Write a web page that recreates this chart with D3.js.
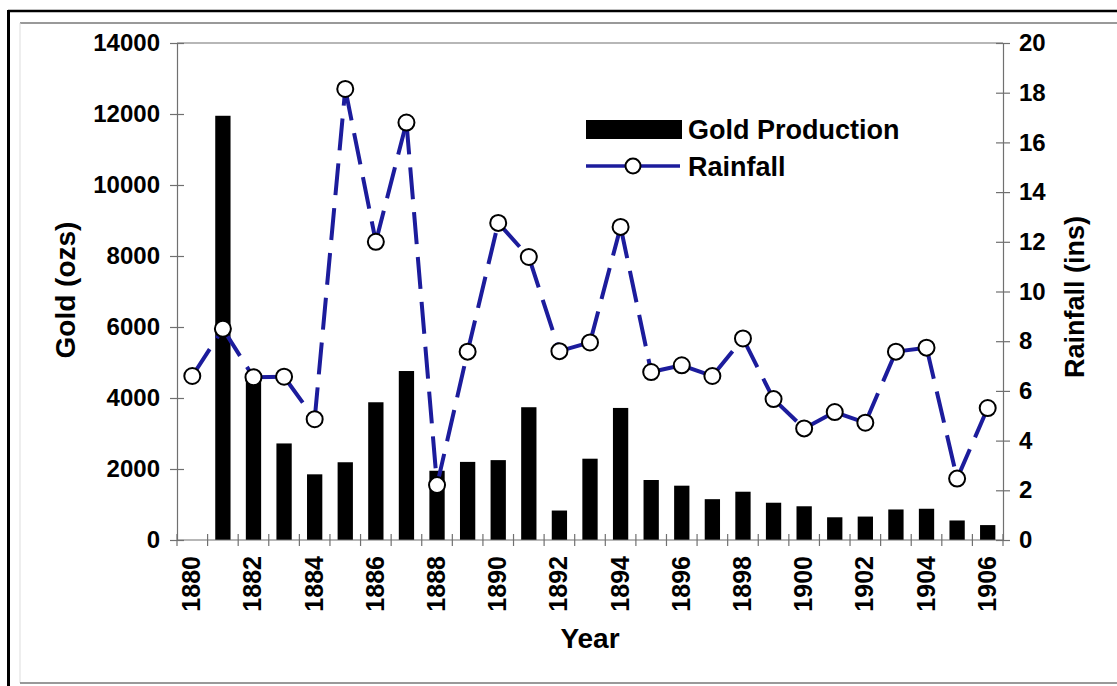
<!DOCTYPE html>
<html>
<head>
<meta charset="utf-8">
<script src="https://cdn.jsdelivr.net/npm/d3@7"></script>
<style>
  html, body { margin: 0; padding: 0; background: #fff; }
  svg { display: block; }
  text { font-family: "Liberation Sans", Arial, sans-serif; font-weight: bold; fill: #000; }
</style>
</head>
<body>
<svg id="chart" width="1117" height="686"></svg>
<script>
const years = [1880,1881,1882,1883,1884,1885,1886,1887,1888,1889,1890,1891,1892,1893,1894,1895,1896,1897,1898,1899,1900,1901,1902,1903,1904,1905,1906];
const gold = [0,11950,4620,2720,1850,2190,3880,4760,1950,2200,2250,3740,830,2290,3720,1690,1530,1150,1360,1050,950,640,660,860,880,550,420];
const rainfall = [6.6,8.5,6.55,6.57,4.86,18.15,12.0,16.8,2.21,7.58,12.76,11.39,7.6,7.95,12.6,6.76,7.03,6.6,8.11,5.67,4.49,5.15,4.72,7.58,7.74,2.47,5.31];
const goldTicks = [0,2000,4000,6000,8000,10000,12000,14000];
const rainTicks = [0,2,4,6,8,10,12,14,16,18,20];
const yearLabels = years.filter(y => y % 2 === 0);

const svg = d3.select("#chart");
const L = 177, R = 1003, T = 43, B = 540;
const axisColor = "#707070";
const lineColor = "#1c1c9c";

// frames
svg.append("line").attr("x1",8).attr("x2",1117).attr("y1",11).attr("y2",11).attr("stroke","#000").attr("stroke-width",2.5);
svg.append("line").attr("x1",8.5).attr("x2",8.5).attr("y1",10).attr("y2",686).attr("stroke","#000").attr("stroke-width",3);
svg.append("line").attr("x1",20).attr("x2",1117).attr("y1",23).attr("y2",23).attr("stroke","#777").attr("stroke-width",1.5);
svg.append("line").attr("x1",20).attr("x2",20).attr("y1",23).attr("y2",683).attr("stroke","#ddd").attr("stroke-width",1);
svg.append("line").attr("x1",20).attr("x2",1117).attr("y1",683).attr("y2",683).attr("stroke","#777").attr("stroke-width",1.5);

const x = d3.scaleBand().domain(years).range([L, R]).paddingInner(0.5).paddingOuter(0.25);
const yG = d3.scaleLinear().domain([0,14000]).range([B, T]);
const yR = d3.scaleLinear().domain([0,20]).range([B, T]);

// plot top border
svg.append("line").attr("x1",L).attr("x2",R).attr("y1",T).attr("y2",T).attr("stroke",axisColor).attr("stroke-width",1.2);

// bars
svg.append("g").selectAll("rect").data(years).join("rect")
  .attr("x", d => x(d))
  .attr("width", x.bandwidth())
  .attr("y", (d,i) => yG(gold[i]))
  .attr("height", (d,i) => B - yG(gold[i]))
  .attr("fill", "#000");

// left axis
const leftAxis = svg.append("g").attr("transform", `translate(${L},0)`)
  .call(d3.axisLeft(yG).tickValues(goldTicks).tickSize(7).tickPadding(10).tickFormat(d3.format("d")));
leftAxis.selectAll(".tick line").clone().attr("x2", 7);
// right axis
const rightAxis = svg.append("g").attr("transform", `translate(${R},0)`)
  .call(d3.axisRight(yR).tickValues(rainTicks).tickSize(7).tickPadding(9));
rightAxis.selectAll(".tick line").clone().attr("x2", -7);
// bottom axis: ticks at band boundaries
const step = x.step();
const boundaries = d3.range(years.length + 1).map(i => L + i * step);
const bottom = svg.append("g");
bottom.append("line").attr("x1",L).attr("x2",R).attr("y1",B).attr("y2",B).attr("stroke",axisColor).attr("stroke-width",1.2);
bottom.selectAll("line.t").data(boundaries).join("line").attr("class","t")
  .attr("x1", d => d).attr("x2", d => d).attr("y1", B - 6).attr("y2", B + 6)
  .attr("stroke", axisColor).attr("stroke-width", 1.2);
bottom.selectAll("text").data(yearLabels).join("text")
  .attr("transform", d => `translate(${x(d) + x.bandwidth()/2 + 8},${B + 16}) rotate(-90)`)
  .attr("text-anchor", "end")
  .style("font-size", "25px")
  .text(d => d);

[leftAxis, rightAxis].forEach(g => {
  g.select(".domain").attr("stroke", axisColor).attr("stroke-width", 1.2);
  g.selectAll(".tick line").attr("stroke", axisColor).attr("stroke-width", 1.2);
  g.selectAll(".tick text").style("font-size", "24px").style("font-family", "'Liberation Sans', Arial, sans-serif").style("font-weight", "bold").attr("fill", "#000");
});

// rainfall line: each segment restarts the dash pattern (as in the original)
const pts = rainfall.map((v, i) => [x(years[i]) + x.bandwidth()/2, yR(v)]);
const segLine = d3.line();
svg.append("g").selectAll("path").data(d3.pairs(pts)).join("path")
  .attr("d", d => segLine(d))
  .attr("fill", "none")
  .attr("stroke", lineColor)
  .attr("stroke-width", 4)
  .attr("stroke-dasharray", "32,13");
svg.append("g").selectAll("circle").data(pts).join("circle")
  .attr("cx", d => d[0])
  .attr("cy", d => d[1])
  .attr("r", 8)
  .attr("fill", "#fff")
  .attr("stroke", "#000")
  .attr("stroke-width", 2);

// axis titles
svg.append("text").attr("x", 590).attr("y", 648).attr("text-anchor","middle").style("font-size","28px").text("Year");
svg.append("text").attr("transform","translate(75,290) rotate(-90)").attr("text-anchor","middle").style("font-size","28px").text("Gold (ozs)");
svg.append("text").attr("transform","translate(1084,297) rotate(-90)").attr("text-anchor","middle").style("font-size","27px").text("Rainfall (ins)");

// legend
const leg = svg.append("g");
leg.append("rect").attr("x",586).attr("y",120).attr("width",96).attr("height",19).attr("fill","#000");
leg.append("text").attr("x",688).attr("y",139).style("font-size","27px").text("Gold Production");
leg.append("line").attr("x1",586).attr("x2",680).attr("y1",166).attr("y2",166).attr("stroke",lineColor).attr("stroke-width",3.5);
leg.append("circle").attr("cx",633).attr("cy",166).attr("r",7.5).attr("fill","#fff").attr("stroke","#000").attr("stroke-width",2);
leg.append("text").attr("x",688).attr("y",176).style("font-size","27px").text("Rainfall");
</script>
</body>
</html>
